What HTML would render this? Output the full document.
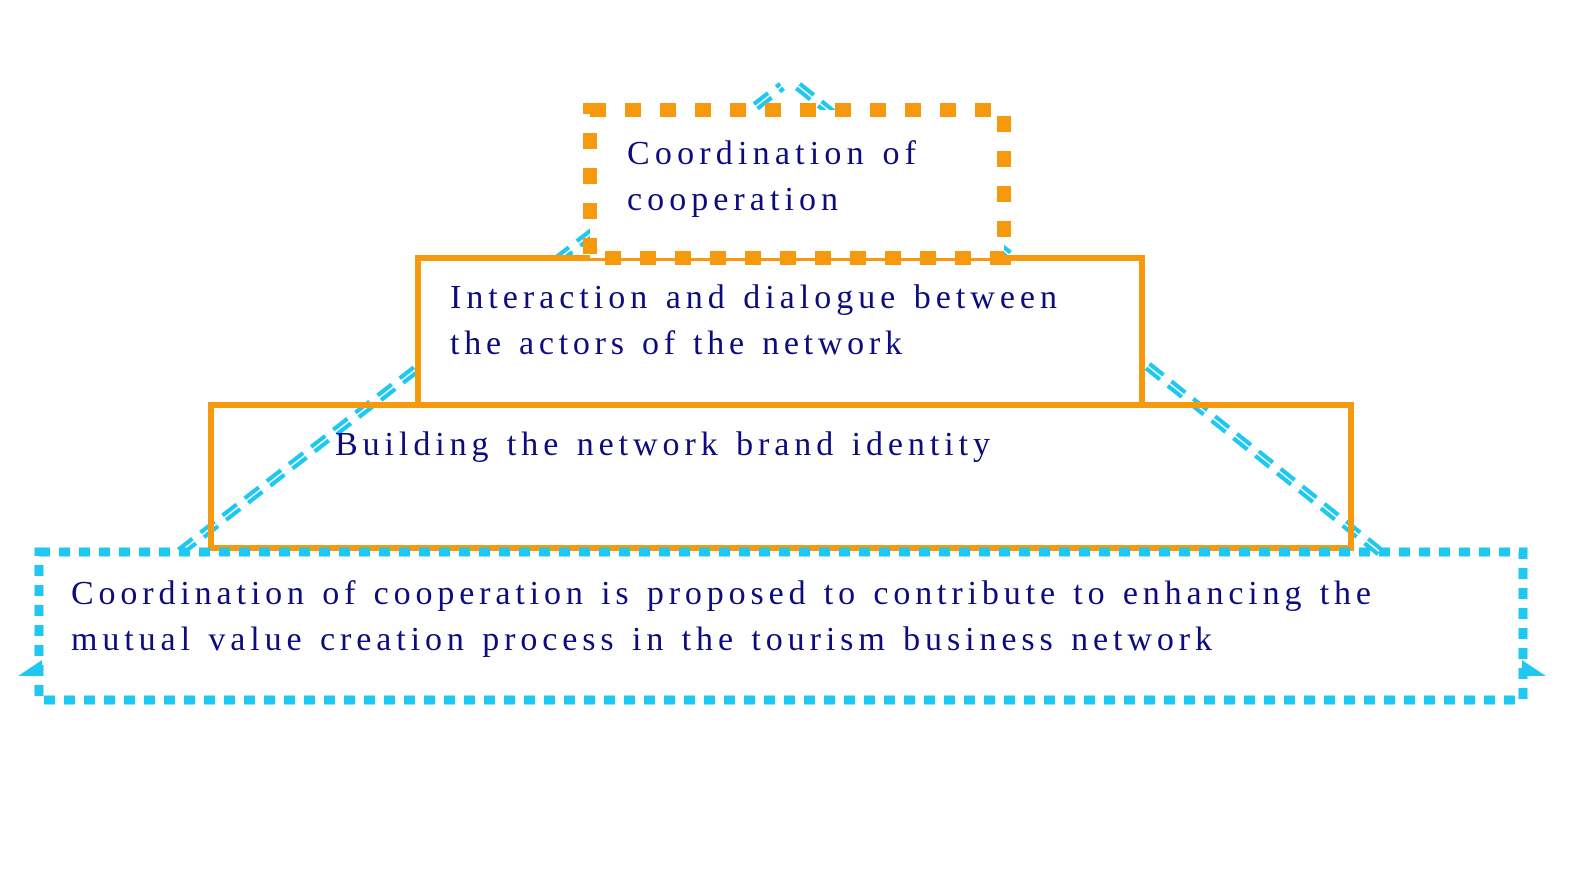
<!DOCTYPE html>
<html><head><style>html,body{margin:0;padding:0;background:#fff}svg{display:block}</style></head>
<body>
<svg width="1577" height="870" viewBox="0 0 1577 870" xmlns="http://www.w3.org/2000/svg">
<g stroke="#1ec8f0" stroke-width="10" fill="none" stroke-dasharray="18 10">
<line x1="180" y1="552" x2="782" y2="86"/>
<line x1="798" y1="86" x2="1380" y2="552"/>
</g>
<g stroke="#fff" stroke-width="1.5" fill="none">
<line x1="180" y1="552" x2="782" y2="86"/>
<line x1="798" y1="86" x2="1380" y2="552"/>
</g>
<rect x="211" y="405" width="1140" height="143" fill="none" stroke="#f7990c" stroke-width="6"/>
<rect x="418" y="258" width="724" height="147" fill="#fff" stroke="#f7990c" stroke-width="6"/>
<rect x="590" y="110" width="414" height="148" fill="#fff" stroke="#f7990c" stroke-width="14" stroke-dasharray="16 19"/>
<rect x="39" y="552" width="1484" height="148" fill="none" stroke="#1ec8f0" stroke-width="9" stroke-dasharray="11 9"/>
<polygon points="18,676 42,676 42,660" fill="#1ec8f0"/>
<polygon points="1546,676 1522,676 1522,660" fill="#1ec8f0"/>
<g font-family="Liberation Serif, serif" font-size="34" fill="#0c0c7e" letter-spacing="3">
<text x="627" y="164" textLength="292">Coordination of</text>
<text x="627" y="210" textLength="214">cooperation</text>
<text x="450" y="308" textLength="610">Interaction and dialogue between</text>
<text x="450" y="354" textLength="455">the actors of the network</text>
<text x="335" y="455" textLength="658">Building the network brand identity</text>
<text x="71" y="604" textLength="1303">Coordination of cooperation is proposed to contribute to enhancing the</text>
<text x="71" y="650" textLength="1144">mutual value creation process in the tourism business network</text>
</g>
</svg>
</body></html>
